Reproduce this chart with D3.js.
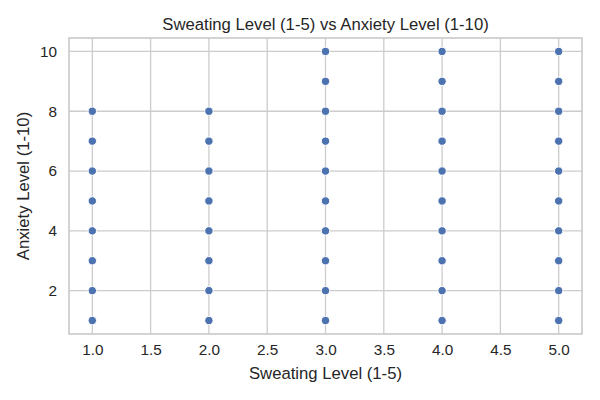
<!DOCTYPE html>
<html><head><meta charset="utf-8">
<script src="https://cdn.jsdelivr.net/npm/d3@7"></script>
<style>body{margin:0;background:#fff}svg{display:block}text{font-family:"Liberation Sans",Arial,sans-serif;fill:#262626}</style>
</head><body><svg id="c" width="600" height="400"></svg>
<script>
const sweating = [1,1,1,1,1,1,1,1, 2,2,2,2,2,2,2,2, 3,3,3,3,3,3,3,3,3,3, 4,4,4,4,4,4,4,4,4,4, 5,5,5,5,5,5,5,5,5,5];
const anxiety  = [1,2,3,4,5,6,7,8, 1,2,3,4,5,6,7,8, 1,2,3,4,5,6,7,8,9,10, 1,2,3,4,5,6,7,8,9,10, 1,2,3,4,5,6,7,8,9,10];
const xTicks = [1.0,1.5,2.0,2.5,3.0,3.5,4.0,4.5,5.0];
const yTicks = [2,4,6,8,10];
const title = "Sweating Level (1-5) vs Anxiety Level (1-10)";
const xLabel = "Sweating Level (1-5)";
const yLabel = "Anxiety Level (1-10)";

const svg = d3.select("#c");
const L=69, R=582, T=38, B=334;
const x = d3.scaleLinear().domain([0.8,5.2]).range([L,R]);
const y = d3.scaleLinear().domain([0.55,10.45]).range([B,T]);

const grid = svg.append("g");
grid.selectAll("line.v").data(xTicks).join("line")
  .attr("x1",d=>x(d)).attr("x2",d=>x(d)).attr("y1",T).attr("y2",B)
  .attr("stroke","#cccccc").attr("stroke-width",1.3);
grid.selectAll("line.h").data(yTicks).join("line")
  .attr("y1",d=>y(d)).attr("y2",d=>y(d)).attr("x1",L).attr("x2",R)
  .attr("stroke","#cccccc").attr("stroke-width",1.3);

const xa = d3.axisBottom(x).tickValues(xTicks).tickFormat(d3.format(".1f")).tickSize(0).tickPadding(10);
const gx = svg.append("g").attr("transform",`translate(0,${B})`).call(xa);
gx.select(".domain").remove();
gx.selectAll("text").attr("font-size","15.3px").attr("fill","#262626").attr("font-family","Liberation Sans, Arial, sans-serif");

const ya = d3.axisLeft(y).tickValues(yTicks).tickFormat(d3.format("d")).tickSize(0).tickPadding(12);
const gy = svg.append("g").attr("transform",`translate(${L},0)`).call(ya);
gy.select(".domain").remove();
gy.selectAll("text").attr("font-size","15.3px").attr("fill","#262626").attr("font-family","Liberation Sans, Arial, sans-serif");

svg.append("rect").attr("x",L).attr("y",T).attr("width",R-L).attr("height",B-T)
  .attr("fill","none").attr("stroke","#cccccc").attr("stroke-width",1.7);

svg.append("g").selectAll("circle").data(sweating.map((s,i)=>[s,anxiety[i]])).join("circle")
  .attr("cx",d=>x(d[0])).attr("cy",d=>y(d[1])).attr("r",4.2)
  .attr("fill","#4c72b0").attr("stroke","#ffffff").attr("stroke-width",1);

svg.append("text").attr("x",(L+R)/2).attr("y",30).attr("text-anchor","middle").attr("font-size","16.7px").text(title);
svg.append("text").attr("x",(L+R)/2).attr("y",379).attr("text-anchor","middle").attr("font-size","16.7px").text(xLabel);
svg.append("text").attr("transform",`translate(29,${(T+B)/2}) rotate(-90)`).attr("text-anchor","middle").attr("font-size","16.7px").text(yLabel);
</script></body></html>
